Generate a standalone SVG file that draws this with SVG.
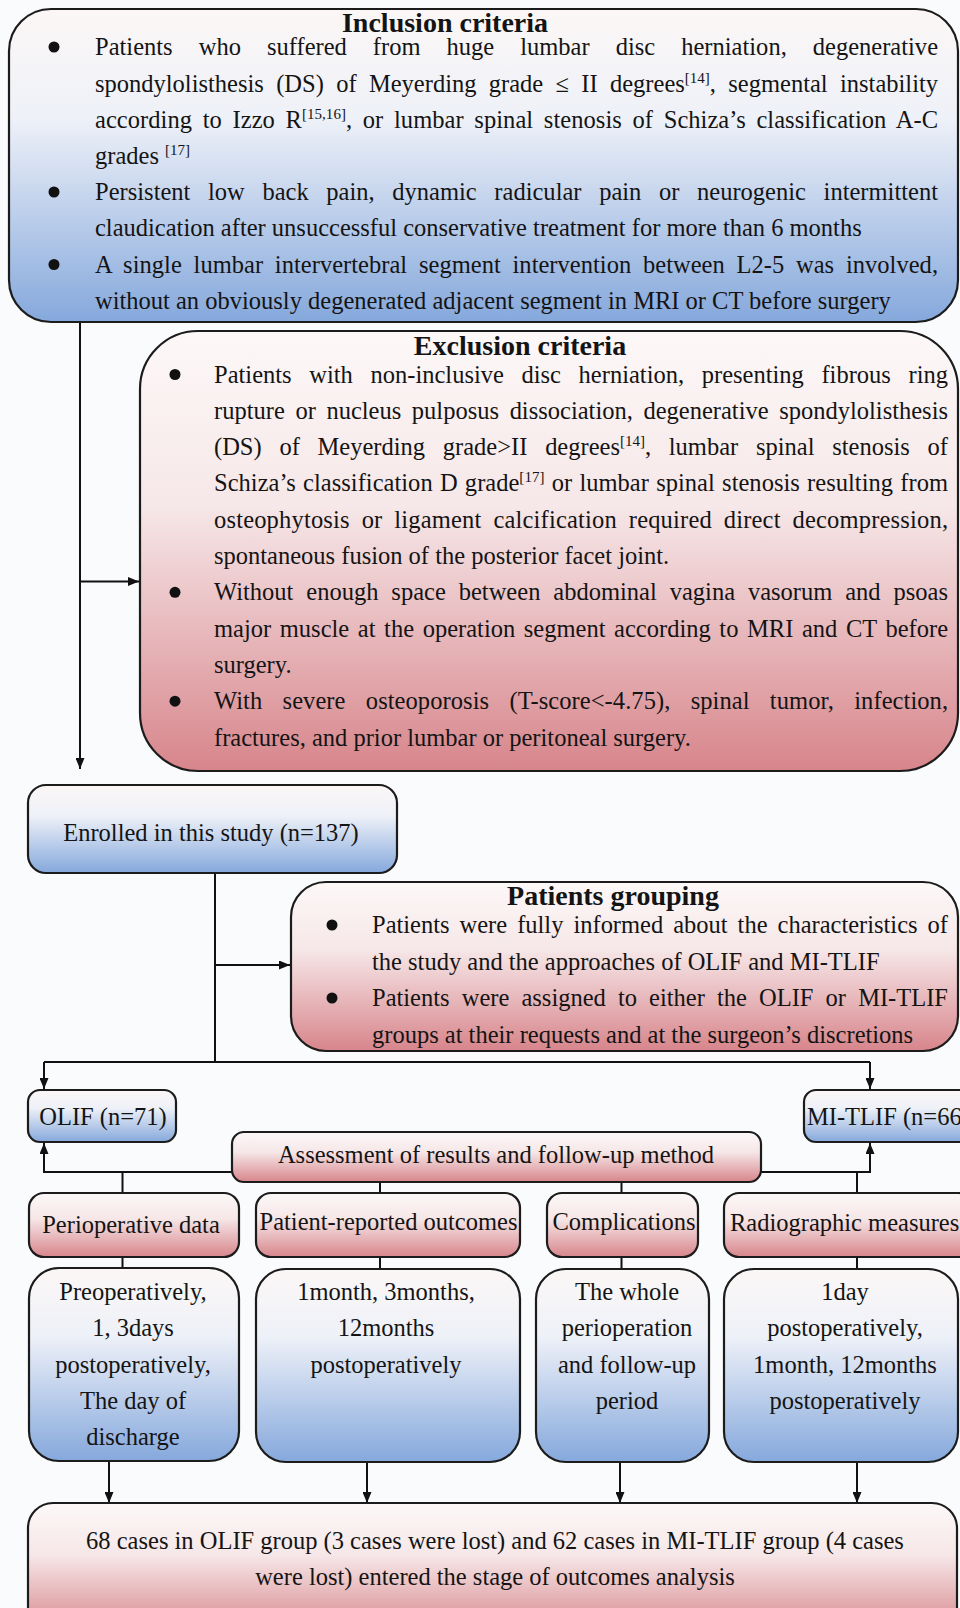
<svg xmlns="http://www.w3.org/2000/svg" width="960" height="1608" viewBox="0 0 960 1608">
<defs>
<linearGradient id="gb" x1="0" y1="0" x2="0" y2="1">
<stop offset="0" stop-color="#fcf7f6"/>
<stop offset="0.35" stop-color="#eef1f8"/>
<stop offset="1" stop-color="#85a8dc"/>
</linearGradient>
<linearGradient id="gp" x1="0" y1="0" x2="0" y2="1">
<stop offset="0" stop-color="#fdf8f8"/>
<stop offset="0.4" stop-color="#f6e7e8"/>
<stop offset="1" stop-color="#d7858b"/>
</linearGradient>
<marker id="ah" markerWidth="11" markerHeight="9" refX="11" refY="4.5" orient="auto" markerUnits="userSpaceOnUse">
<path d="M0,0 L11,4.5 L0,9 z" fill="#111"/>
</marker>
<style>
.t{font-family:"Liberation Serif","Times New Roman",serif;font-size:24.5px;fill:#141414}
.h{font-weight:bold;font-size:28px}
.c{text-anchor:middle}
.bb{fill:url(#gb);stroke:#1c1c1c;stroke-width:2.2}
.bp{fill:url(#gp);stroke:#1c1c1c;stroke-width:2.2}
.ln{stroke:#111;stroke-width:2;fill:none}
.ar{marker-end:url(#ah)}
.dot{fill:#111}
.s{font-size:15px}
</style>
</defs>
<rect x="0" y="0" width="960" height="1608" fill="#fafbfd"/>

<g id="connectors">
<path class="ln ar" d="M80,322 V769"/>
<path class="ln ar" d="M80,581.5 H139"/>
<path class="ln" d="M215,873 V1062"/>
<path class="ln ar" d="M215,965 H290"/>
<path class="ln" d="M44,1062 H870"/>
<path class="ln ar" d="M44,1062 V1089"/>
<path class="ln ar" d="M870,1062 V1089"/>
<path class="ln ar" d="M232,1172 H44 V1143"/>
<path class="ln ar" d="M761,1172 H870 V1143"/>
<path class="ln" d="M122.5,1172 V1193"/>
<path class="ln" d="M380,1182 V1193"/>
<path class="ln" d="M621.5,1182 V1193"/>
<path class="ln" d="M857,1172 V1193"/>
<path class="ln" d="M122.5,1257 V1268"/>
<path class="ln" d="M380,1257 V1269"/>
<path class="ln" d="M621.5,1257 V1269"/>
<path class="ln" d="M857,1257 V1269"/>
<path class="ln ar" d="M109,1461 V1503"/>
<path class="ln ar" d="M367,1462 V1503"/>
<path class="ln ar" d="M620,1462 V1503"/>
<path class="ln ar" d="M857,1462 V1503"/>
</g>

<g id="inclusion">
<rect class="bb" x="9" y="9" width="949" height="313" rx="42" ry="42"/>
<text class="t h c" x="445" y="31.5">Inclusion criteria</text>
<circle class="dot" cx="54" cy="47" r="5.5"/>
<circle class="dot" cx="54" cy="192" r="5.5"/>
<circle class="dot" cx="54" cy="264.5" r="5.5"/>
<text class="t" x="95" y="55" word-spacing="19.9" textLength="843" lengthAdjust="spacing">Patients who suffered from huge lumbar disc herniation, degenerative</text>
<text class="t" x="95" y="91.5" word-spacing="6.2" textLength="843" lengthAdjust="spacing">spondylolisthesis (DS) of Meyerding grade ≤ II degrees<tspan class="s" dy="-9">[14]</tspan><tspan dy="9">, segmental instability</tspan></text>
<text class="t" x="95" y="127.7" word-spacing="4.5" textLength="843" lengthAdjust="spacing">according to Izzo R<tspan class="s" dy="-9">[15,16]</tspan><tspan dy="9">, or lumbar spinal stenosis of Schiza’s classification A-C</tspan></text>
<text class="t" x="95" y="164">grades <tspan class="s" dy="-9">[17]</tspan></text>
<text class="t" x="95" y="200" word-spacing="11.5" textLength="843" lengthAdjust="spacing">Persistent low back pain, dynamic radicular pain or neurogenic intermittent</text>
<text class="t" x="95" y="236.3">claudication after unsuccessful conservative treatment for more than 6 months</text>
<text class="t" x="95" y="272.5" word-spacing="5.6" textLength="843" lengthAdjust="spacing">A single lumbar intervertebral segment intervention between L2-5 was involved,</text>
<text class="t" x="95" y="308.8">without an obviously degenerated adjacent segment in MRI or CT before surgery</text>
</g>

<g id="exclusion">
<rect class="bp" x="140" y="331" width="818" height="440" rx="58" ry="58"/>
<text class="t h c" x="520" y="355">Exclusion criteria</text>
<circle class="dot" cx="175" cy="374.5" r="5.5"/>
<circle class="dot" cx="175" cy="592.3" r="5.5"/>
<circle class="dot" cx="175" cy="701.2" r="5.5"/>
<text class="t" x="214" y="382.5" word-spacing="11.5" textLength="734" lengthAdjust="spacing">Patients with non-inclusive disc herniation, presenting fibrous ring</text>
<text class="t" x="214" y="418.8" word-spacing="4.5" textLength="734" lengthAdjust="spacing">rupture or nucleus pulposus dissociation, degenerative spondylolisthesis</text>
<text class="t" x="214" y="455.1" word-spacing="11.6" textLength="734" lengthAdjust="spacing">(DS) of Meyerding grade&gt;II degrees<tspan class="s" dy="-9">[14]</tspan><tspan dy="9">, lumbar spinal stenosis of</tspan></text>
<text class="t" x="214" y="491.4" word-spacing="1.1" textLength="734" lengthAdjust="spacing">Schiza’s classification D grade<tspan class="s" dy="-9">[17]</tspan><tspan dy="9"> or lumbar spinal stenosis resulting from</tspan></text>
<text class="t" x="214" y="527.7" word-spacing="5.6" textLength="734" lengthAdjust="spacing">osteophytosis or ligament calcification required direct decompression,</text>
<text class="t" x="214" y="564">spontaneous fusion of the posterior facet joint.</text>
<text class="t" x="214" y="600.3" word-spacing="6.7" textLength="734" lengthAdjust="spacing">Without enough space between abdominal vagina vasorum and psoas</text>
<text class="t" x="214" y="636.6" word-spacing="2.5" textLength="734" lengthAdjust="spacing">major muscle at the operation segment according to MRI and CT before</text>
<text class="t" x="214" y="672.9">surgery.</text>
<text class="t" x="214" y="709.2" word-spacing="14.1" textLength="734" lengthAdjust="spacing">With severe osteoporosis (T-score&lt;-4.75), spinal tumor, infection,</text>
<text class="t" x="214" y="745.5">fractures, and prior lumbar or peritoneal surgery.</text>
</g>

<g id="enrolled">
<rect class="bb" x="28" y="785" width="369" height="88" rx="18" ry="18"/>
<text class="t c" x="211" y="841">Enrolled in this study (n=137)</text>
</g>

<g id="grouping">
<rect class="bp" x="291" y="882" width="667" height="169" rx="35" ry="35"/>
<text class="t h c" x="613" y="905">Patients grouping</text>
<circle class="dot" cx="332" cy="925" r="5.5"/>
<circle class="dot" cx="332" cy="998" r="5.5"/>
<text class="t" x="372" y="933" word-spacing="3.9" textLength="576" lengthAdjust="spacing">Patients were fully informed about the characteristics of</text>
<text class="t" x="372" y="969.5">the study and the approaches of OLIF and MI-TLIF</text>
<text class="t" x="372" y="1006" word-spacing="6" textLength="576" lengthAdjust="spacing">Patients were assigned to either the OLIF or MI-TLIF</text>
<text class="t" x="372" y="1042.5">groups at their requests and at the surgeon’s discretions</text>
</g>

<g id="olif">
<rect class="bb" x="28" y="1090" width="148" height="52" rx="12" ry="12"/>
<text class="t c" x="103" y="1125">OLIF (n=71)</text>
</g>

<g id="mitlif">
<rect class="bb" x="804" y="1090" width="180" height="52" rx="12" ry="12"/>
<text class="t" x="807" y="1125">MI-TLIF (n=66</text>
</g>

<g id="assessment">
<rect class="bp" x="232" y="1132" width="529" height="50" rx="12" ry="12"/>
<text class="t c" x="496" y="1163">Assessment of results and follow-up method</text>
</g>

<g id="perioperative">
<rect class="bp" x="29" y="1193" width="210" height="64" rx="15" ry="15"/>
<text class="t c" x="131" y="1233">Perioperative data</text>
</g>

<g id="patient-reported">
<rect class="bp" x="256" y="1193" width="264" height="64" rx="15" ry="15"/>
<text class="t c" x="388.5" y="1230">Patient-reported outcomes</text>
</g>

<g id="complications">
<rect class="bp" x="547" y="1193" width="151" height="64" rx="15" ry="15"/>
<text class="t c" x="624" y="1230">Complications</text>
</g>

<g id="radiographic">
<rect class="bp" x="724" y="1193" width="250" height="64" rx="15" ry="15"/>
<text class="t" x="730" y="1231">Radiographic measures</text>
</g>

<g id="timing-perioperative">
<rect class="bb" x="29" y="1268" width="210" height="193" rx="30" ry="30"/>
<text class="t c" x="133" y="1300">Preoperatively,</text>
<text class="t c" x="133" y="1336.3">1, 3days</text>
<text class="t c" x="133" y="1372.6">postoperatively,</text>
<text class="t c" x="133" y="1408.9">The day of</text>
<text class="t c" x="133" y="1445.2">discharge</text>
</g>

<g id="timing-pro">
<rect class="bb" x="256" y="1269" width="264" height="193" rx="30" ry="30"/>
<text class="t c" x="386" y="1300">1month, 3months,</text>
<text class="t c" x="386" y="1336.3">12months</text>
<text class="t c" x="386" y="1372.6">postoperatively</text>
</g>

<g id="timing-complications">
<rect class="bb" x="536" y="1269" width="173" height="193" rx="30" ry="30"/>
<text class="t c" x="627" y="1300">The whole</text>
<text class="t c" x="627" y="1336.3">perioperation</text>
<text class="t c" x="627" y="1372.6">and follow-up</text>
<text class="t c" x="627" y="1408.9">period</text>
</g>

<g id="timing-radiographic">
<rect class="bb" x="724" y="1269" width="234" height="193" rx="30" ry="30"/>
<text class="t c" x="845" y="1300">1day</text>
<text class="t c" x="845" y="1336.3">postoperatively,</text>
<text class="t c" x="845" y="1372.6">1month, 12months</text>
<text class="t c" x="845" y="1408.9">postoperatively</text>
</g>

<g id="final">
<rect class="bp" x="28" y="1503" width="929" height="130" rx="25" ry="25"/>
<text class="t c" x="495" y="1549">68 cases in OLIF group (3 cases were lost) and 62 cases in MI-TLIF group (4 cases</text>
<text class="t c" x="495" y="1585">were lost) entered the stage of outcomes analysis</text>
</g>
</svg>
